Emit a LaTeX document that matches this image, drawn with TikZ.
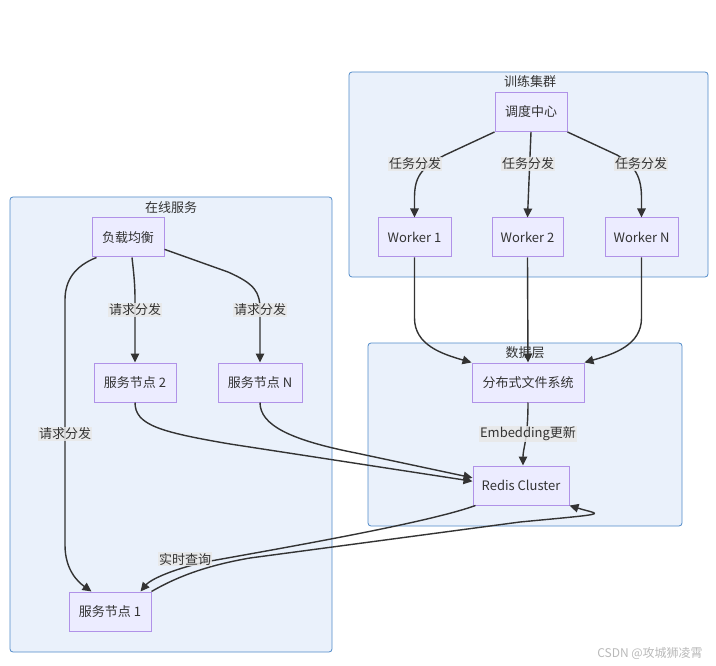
\documentclass[tikz,border=0pt]{standalone}
\usepackage{fontspec}
\setmainfont{Noto Sans CJK SC}
\usetikzlibrary{arrows.meta}
\definecolor{clfill}{RGB}{234,241,251}
\definecolor{cldraw}{RGB}{80,138,200}
\definecolor{ndfill}{RGB}{236,236,255}
\definecolor{nddraw}{RGB}{176,146,232}
\definecolor{edgec}{RGB}{51,51,51}
\definecolor{txt}{RGB}{51,51,51}
\definecolor{lblfill}{RGB}{232,232,232}
\definecolor{wmark}{RGB}{185,185,185}
\begin{document}
\begin{tikzpicture}[x=1pt,y=-1pt,
  cluster/.style={draw=cldraw, fill=clfill, rounded corners=3pt, line width=0.8pt},
  ctitle/.style={text=txt, font=\fontsize{13}{15}\selectfont, inner sep=0pt},
  box/.style={draw=nddraw, fill=ndfill, line width=1pt, inner sep=0pt,
    minimum height=39pt, text=txt, font=\fontsize{13}{15}\selectfont},
  lbl/.style={fill=lblfill, fill opacity=0.85, text opacity=1, inner sep=1.2pt,
    text=txt, font=\fontsize{13}{15}\selectfont},
  conn/.style={draw=edgec, line width=1.4pt, -{Triangle[length=9pt,width=8.5pt]}}
]
\useasboundingbox (0,0) rectangle (716,666);

% clusters
\draw[cluster] (349,72) rectangle (708,277);
\draw[cluster] (10,197) rectangle (332,652);
\draw[cluster] (368,343) rectangle (682,526);
\node[ctitle] (t1) at (530,82) {训练集群};
\node[ctitle] (t2) at (171,208) {在线服务};
\node[ctitle] (t3) at (525,353) {数据层};

% nodes
\node[box, minimum width=72pt] (sched) at (531,112) {调度中心};
\node[box, minimum width=73pt] (w1) at (414.5,237.5) {Worker 1};
\node[box, minimum width=71pt] (w2) at (527.5,237.5) {Worker 2};
\node[box, minimum width=73pt] (wn) at (641.5,237.5) {Worker N};
\node[box, minimum width=72pt] (lb) at (128,237.5) {负载均衡};
\node[box, minimum width=82pt] (s2) at (135,382.5) {服务节点 2};
\node[box, minimum width=84pt] (sn) at (260,382.5) {服务节点 N};
\node[box, minimum width=82pt] (s1) at (110,611.5) {服务节点 1};
\node[box, minimum width=112pt] (dfs) at (528,382.5) {分布式文件系统};
\node[box, minimum width=96pt] (redis) at (521,485.5) {Redis Cluster};

% edges
\draw[conn] (sched.south west) -- (445,155) .. controls (420,168) and (414.5,178) .. (414.5,198) -- (w1.north);
\draw[conn] (sched.south) -- (w2.north);
\draw[conn] (sched.south east) -- (617,155) .. controls (636,166) and (641.5,178) .. (641.5,198) -- (wn.north);

\draw[conn] (w1.south) -- (414.5,318) .. controls (414.5,345) and (442,354) .. (dfs.north west);
\draw[conn] (w2.south) -- (dfs.north);
\draw[conn] (wn.south) -- (641.5,318) .. controls (641.5,345) and (614,354) .. (dfs.north east);

\draw[conn] (dfs.south) .. controls (528,440) and (523,448) .. ([xshift=2pt]redis.north);

\draw[conn] ([xshift=5pt]lb.south west) .. controls (75,266) and (65,280) .. (65,300) -- (65,545) .. controls (65,570) and (78,582) .. ([xshift=23pt]s1.north west);
\draw[conn] ([xshift=4pt]lb.south) .. controls (134,275) and (135,285) .. (135,300) -- (s2.north);
\draw[conn] (lb.-18) -- (228,272) .. controls (255,284) and (260,292) .. (260,310) -- (sn.north);

\draw[conn] (s2.south) .. controls (135,425) and (160,432) .. (230,444) -- (redis.175);
\draw[conn] (sn.south) .. controls (260,425) and (290,440) .. (356,453) -- (redis.171);

\draw[conn] ([xshift=3pt]redis.south west) .. controls (430,522) and (300,545) .. (205,562) .. controls (170,570) and (150,580) .. ([xshift=-11pt]s1.north east);
\draw[conn] (s1.north east) .. controls (180,575) and (210,565) .. (250,558) -- (520,522) .. controls (615,513) and (600,515) .. (redis.south east);

% edge labels
\node[lbl] (l1) at (415,164) {任务分发};
\node[lbl] (l2) at (528,164) {任务分发};
\node[lbl] (l3) at (641,164) {任务分发};
\node[lbl] (l4) at (135,310) {请求分发};
\node[lbl] (l5) at (260,310) {请求分发};
\node[lbl] (l6) at (65,434) {请求分发};
\node[lbl] (l7) at (528,434) {Embedding更新};
\node[lbl] (l8) at (185,559) {实时查询};

% watermark
\node[text=wmark, font=\fontsize{12}{14}\selectfont, inner sep=0pt] (wm) at (650,653) {CSDN @攻城狮凌霄};
\end{tikzpicture}
\end{document}
